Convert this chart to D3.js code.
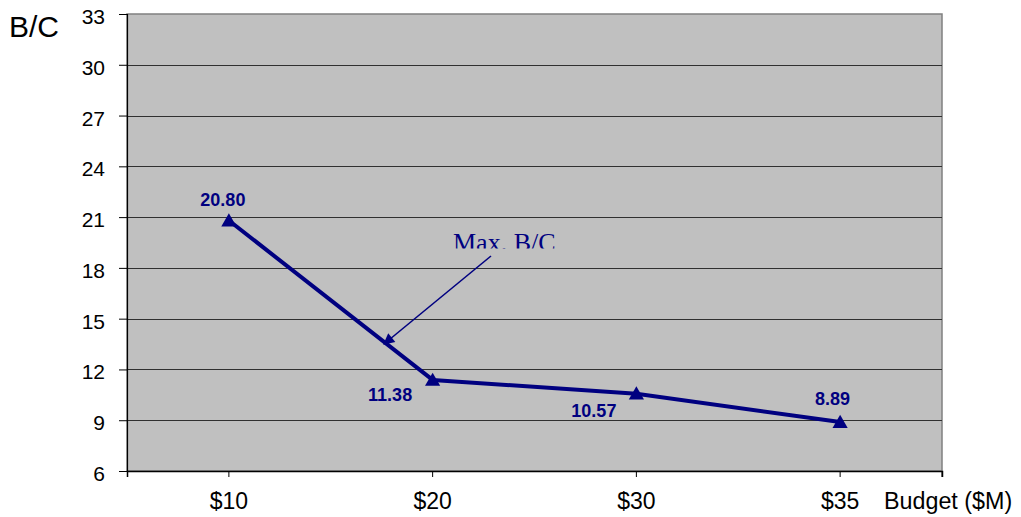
<!DOCTYPE html>
<html><head><meta charset="utf-8">
<script src="https://cdn.jsdelivr.net/npm/d3@7"></script>
<style>body{margin:0;background:#fff}svg{display:block}</style>
</head><body>
<svg id="c" width="1021" height="517"></svg>
<script>
const categories = ["$10", "$20", "$30", "$35"];
const bcValues = [20.80, 11.38, 10.57, 8.89];
const yTicks = [6, 9, 12, 15, 18, 21, 24, 27, 30, 33];
const annotationText = "Max. B/C";
const yTitle = "B/C";
const xTitle = "Budget ($M)";

const svg = d3.select("#c");
const L = 127, R = 942, T = 14, B = 471;
const navy = "#000080";
const sans = "'Liberation Sans', Arial, sans-serif";

const x = d3.scaleBand().domain(categories).range([L, R]);
const y = d3.scaleLinear().domain([6, 33]).range([B, T]);
const cx = d => x(d) + x.bandwidth() / 2;

// plot background
svg.append("rect").attr("x", L).attr("y", T).attr("width", R - L).attr("height", B - T)
  .attr("fill", "#c0c0c0").attr("stroke", "#808080").attr("stroke-width", 1.5);

// gridlines
svg.append("g").selectAll("line").data(yTicks.filter(v => v > 6 && v < 33)).join("line")
  .attr("x1", L).attr("x2", R).attr("y1", d => Math.round(y(d)) + 0.5).attr("y2", d => Math.round(y(d)) + 0.5)
  .attr("stroke", "#303030").attr("stroke-width", 1.2);

// y axis
const yAxis = svg.append("g").attr("transform", `translate(${L},0)`)
  .call(d3.axisLeft(y).tickValues(yTicks).tickSize(8).tickPadding(14).tickFormat(d3.format("d")));
yAxis.attr("font-size", null).attr("font-family", null);
yAxis.select(".domain").attr("stroke", "#000").attr("stroke-width", 1.2);
yAxis.selectAll(".tick line").attr("stroke", "#000");
yAxis.selectAll("text").style("font-family", sans).style("font-size", "21px").attr("fill", "#000").attr("dy", "0.45em");

// x axis
const xAxis = svg.append("g").attr("transform", `translate(0,${B})`)
  .call(d3.axisBottom(x).tickSize(6).tickPadding(15.5).tickSizeOuter(6));
xAxis.attr("font-size", null).attr("font-family", null);
xAxis.selectAll(".tick").attr("transform", d => `translate(${cx(d)},0)`);
xAxis.select(".domain").attr("stroke", "#000").attr("stroke-width", 1.5);
xAxis.selectAll(".tick line").attr("stroke", "#000");
xAxis.selectAll("text").style("font-family", sans).style("font-size", "23px").attr("fill", "#000");
svg.append("line").attr("x1", R).attr("x2", R).attr("y1", B).attr("y2", B + 6).attr("stroke", "#000");

// titles
svg.append("text").attr("x", 9).attr("y", 37).text(yTitle)
  .style("font-family", sans).style("font-size", "30px").attr("fill", "#000");
svg.append("text").attr("x", 884).attr("y", 509).text(xTitle)
  .style("font-family", sans).style("font-size", "23.3px").attr("fill", "#000");

// line
const line = d3.line().x((d, i) => cx(categories[i])).y(d => y(d));
svg.append("path").attr("d", line(bcValues)).attr("fill", "none")
  .attr("stroke", navy).attr("stroke-width", 4).attr("stroke-linejoin", "round");

// markers
const tri = d3.symbol().type(d3.symbolTriangle).size(100);
svg.append("g").selectAll("path").data(bcValues).join("path")
  .attr("d", tri)
  .attr("transform", (d, i) => `translate(${cx(categories[i])},${y(d) + 1.5})`)
  .attr("fill", navy);

// value labels
const offs = [[-6, -14], [-42.5, 21], [-42.5, 23], [-7.5, -17]];
svg.append("g").selectAll("text").data(bcValues).join("text")
  .attr("x", (d, i) => cx(categories[i]) + offs[i][0])
  .attr("y", (d, i) => y(d) + offs[i][1])
  .attr("text-anchor", "middle")
  .style("font-family", sans).style("font-weight", "bold")
  .style("font-size", "18px").attr("fill", navy)
  .text(d => d.toFixed(2));

// annotation
const defs = svg.append("defs");
defs.append("clipPath").attr("id", "annClip").append("rect")
  .attr("x", 440).attr("y", 215).attr("width", 140).attr("height", 33.5);
defs.append("marker").attr("id", "ah").attr("viewBox", "0 0 10 10").attr("refX", 9).attr("refY", 5)
  .attr("markerWidth", 8).attr("markerHeight", 7).attr("markerUnits", "strokeWidth").attr("orient", "auto")
  .append("path").attr("d", "M0,0 L10,5 L0,10 Z").attr("fill", navy);
svg.append("text").attr("x", 453).attr("y", 251).text(annotationText)
  .attr("clip-path", "url(#annClip)")
  .style("font-family", "'Liberation Serif', 'Times New Roman', serif").style("font-size", "26px").attr("fill", navy);
svg.append("line").attr("x1", 491).attr("y1", 256).attr("x2", 384).attr("y2", 344)
  .attr("stroke", navy).attr("stroke-width", 1.6).attr("marker-end", "url(#ah)");
</script>
</body></html>
